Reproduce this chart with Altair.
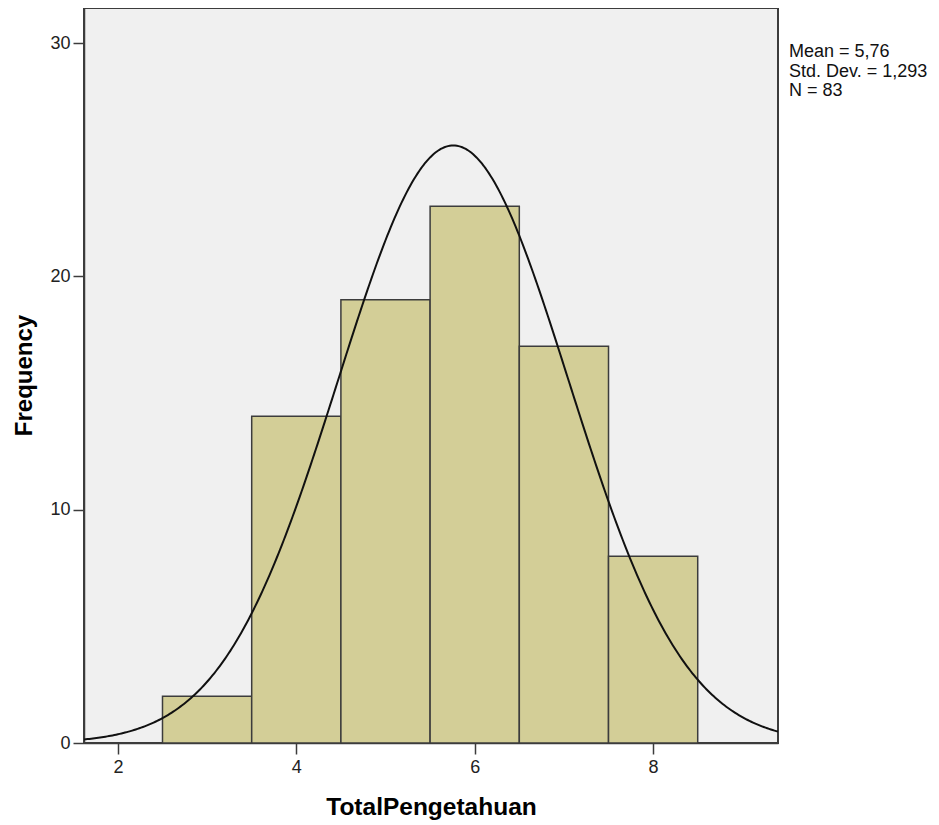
import altair as alt
import pandas as pd

# Histogram data
bin_lower = [2.5, 3.5, 4.5, 5.5, 6.5, 7.5]
bin_upper = [3.5, 4.5, 5.5, 6.5, 7.5, 8.5]
frequency = [2, 14, 19, 23, 17, 8]

# Summary statistics shown on the chart
mean_val = 5.76
sd_val = 1.293
n_val = 83
bin_width = 1.0

x_ticks = [2, 4, 6, 8]
y_ticks = [0, 10, 20, 30]
x_domain = [1.62, 9.4]
y_domain = [0, 31.5]

stats_text = "Mean = 5,76\nStd. Dev. = 1,293\nN = 83"

bars_df = pd.DataFrame({"lo": bin_lower, "hi": bin_upper, "freq": frequency})

FONT = "Liberation Sans"

x_scale = alt.Scale(domain=x_domain, nice=False, zero=False)
y_scale = alt.Scale(domain=y_domain, nice=False)

bars = alt.Chart(bars_df).mark_rect(
    fill="#d3ce97", stroke="#3c3c3c", strokeWidth=1.5
).encode(
    x=alt.X("lo:Q", scale=x_scale,
            axis=alt.Axis(values=x_ticks, format="d", title="TotalPengetahuan", grid=False,
                          tickSize=11, labelPadding=4, labelFontSize=18,
                          labelFont=FONT, labelColor="#222",
                          titleFont=FONT, titleFontSize=24.5, titleFontWeight="bold",
                          titleColor="#000", titleBaseline="alphabetic",
                          titleY=71, domainColor="#3c3c3c", domainWidth=1.5,
                          tickColor="#3c3c3c", tickWidth=1.5)),
    x2="hi:Q",
    y=alt.Y("freq:Q", scale=y_scale,
            axis=alt.Axis(values=y_ticks, format="d", title="Frequency", grid=False,
                          tickSize=11, labelPadding=3, labelFontSize=18,
                          labelFont=FONT, labelColor="#222",
                          titleFont=FONT, titleFontSize=24, titleFontWeight="bold",
                          titleColor="#000", titleBaseline="alphabetic",
                          titleX=-53, titleY=367, titleAngle=-90,
                          domainColor="#3c3c3c", domainWidth=1.5,
                          tickColor="#3c3c3c", tickWidth=1.5)),
    y2=alt.datum(0),
)

curve = alt.Chart(alt.sequence(x_domain[0], x_domain[1] + 0.001, 0.02, as_="x")).transform_calculate(
    y=f"{n_val}*{bin_width}*exp(-pow(datum.x-{mean_val},2)/(2*{sd_val}*{sd_val}))/({sd_val}*sqrt(2*PI))"
).mark_line(color="#111", strokeWidth=2, clip=True).encode(
    x=alt.X("x:Q", scale=x_scale),
    y=alt.Y("y:Q", scale=y_scale),
)

stats = alt.Chart(pd.DataFrame({"t": [stats_text]})).mark_text(
    align="left", baseline="alphabetic", lineBreak="\n", lineHeight=19.5,
    font=FONT, fontSize=18, color="#111"
).encode(
    x=alt.value(705), y=alt.value(49), text="t:N"
)

chart = alt.layer(bars, curve, stats).properties(
    width=694, height=735,
    autosize=alt.AutoSizeParams(type="none"),
    padding={"left": 76, "top": 0, "right": 150, "bottom": 80},
    background="white",
).configure_view(
    fill="#f0f0f0", stroke="#3c3c3c", strokeWidth=2
)

chart.save("out.html", embed_options={"renderer": "svg", "actions": False})
